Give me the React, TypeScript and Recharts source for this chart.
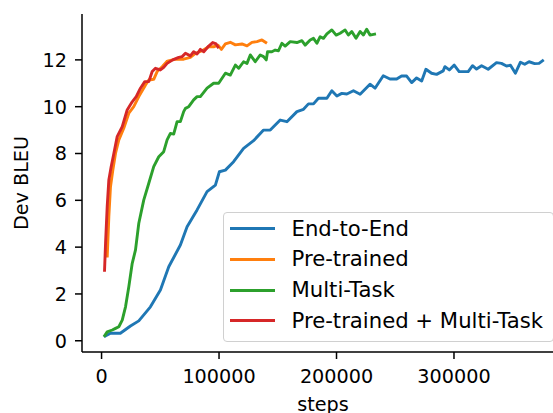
import React from 'react';
import { LineChart, Line, XAxis, YAxis, Legend, Label } from 'recharts';

const seriesNames = ['End-to-End', 'Pre-trained', 'Multi-Task', 'Pre-trained + Multi-Task'];
const seriesColors = ['#1f77b4', '#ff7f0e', '#2ca02c', '#d62728'];
const xTicks = [0, 100000, 200000, 300000];
const yTicks = [0, 2, 4, 6, 8, 10, 12];

const e2eSteps = [2000, 7600, 16000, 24600, 31700, 41600, 50100, 57200, 67100, 72800, 81300, 89800, 96900, 100300, 105400, 112400, 120900, 129400, 137900, 143600, 152100, 157800, 166300, 171900, 176100, 180400, 184600, 191800, 196000, 200300, 204500, 208800, 214400, 220100, 228500, 232800, 239800, 245500, 251200, 255400, 259700, 264000, 268200, 272500, 276100, 280900, 285200, 290800, 292300, 296000, 300200, 304400, 312100, 315800, 319200, 323500, 329100, 336200, 340400, 344700, 348100, 352300, 356600, 360200, 363900, 368700, 372400, 376400];
const e2eBleu = [0.17, 0.32, 0.32, 0.63, 0.85, 1.45, 2.17, 3.16, 4.09, 4.87, 5.59, 6.37, 6.65, 7.22, 7.29, 7.65, 8.22, 8.55, 9.0, 9.0, 9.43, 9.36, 9.79, 9.89, 10.12, 10.12, 10.36, 10.36, 10.68, 10.46, 10.57, 10.54, 10.68, 10.53, 10.96, 10.79, 11.32, 11.18, 11.18, 11.31, 11.31, 11.03, 11.23, 11.1, 11.6, 11.43, 11.38, 11.53, 11.71, 11.57, 11.78, 11.5, 11.5, 11.75, 11.61, 11.75, 11.6, 11.88, 11.85, 11.74, 11.77, 11.43, 11.9, 11.81, 11.92, 11.84, 11.85, 12.0];

const ptSteps = [4800, 6200, 7600, 9600, 11900, 14700, 18900, 23200, 27400, 31700, 37400, 40200, 44400, 47300, 51600, 56000, 62900, 69900, 75600, 79900, 85600, 91200, 95400, 99100, 102000, 105400, 109600, 113900, 119500, 123800, 128000, 132300, 136500, 140800];
const ptBleu = [3.56, 5.3, 6.58, 7.29, 8.01, 8.58, 9.08, 9.72, 10.0, 10.43, 10.93, 11.14, 11.17, 11.5, 11.71, 11.95, 12.03, 12.03, 12.11, 12.28, 12.39, 12.56, 12.56, 12.63, 12.45, 12.68, 12.75, 12.64, 12.68, 12.6, 12.75, 12.78, 12.85, 12.71];

const mtSteps = [2000, 4800, 9100, 11900, 14700, 17600, 20400, 23200, 26100, 28900, 31700, 35900, 40200, 44400, 48700, 52900, 55800, 58600, 61400, 64300, 67100, 69900, 71400, 74200, 78400, 81300, 84100, 89800, 95400, 99700, 105400, 109600, 113900, 116700, 120900, 123800, 126600, 130800, 135100, 137900, 140200, 141300, 145000, 147800, 150600, 153500, 156300, 160600, 166300, 170500, 173300, 177600, 180400, 183300, 186100, 188900, 191800, 196000, 199700, 203100, 207300, 210100, 213000, 216600, 220100, 222900, 225700, 228500, 233600];
const mtBleu = [0.17, 0.38, 0.46, 0.53, 0.6, 0.88, 1.45, 2.31, 3.31, 3.88, 5.02, 6.01, 6.73, 7.44, 7.86, 8.08, 8.58, 8.86, 8.83, 9.36, 9.36, 9.79, 9.93, 10.0, 10.29, 10.43, 10.43, 10.79, 11.0, 11.0, 11.43, 11.35, 11.78, 11.64, 11.92, 11.85, 12.21, 11.92, 12.21, 12.14, 12.0, 12.35, 12.35, 12.42, 12.39, 12.71, 12.59, 12.78, 12.74, 12.82, 12.63, 12.85, 12.92, 12.71, 12.99, 12.92, 13.11, 13.28, 13.06, 13.14, 13.28, 13.06, 13.21, 12.92, 13.21, 13.06, 13.31, 13.06, 13.11];

const ptmtSteps = [2500, 3400, 4800, 6200, 8200, 10500, 13300, 17600, 21800, 26100, 29500, 33100, 36800, 40200, 43100, 45900, 50100, 52900, 55800, 60600, 65700, 68600, 71400, 75600, 78400, 81300, 84100, 87000, 91200, 94600, 97500, 99700];
const ptmtBleu = [2.95, 4.16, 5.73, 6.87, 7.44, 8.01, 8.72, 9.15, 9.86, 10.21, 10.43, 10.79, 11.07, 11.07, 11.5, 11.64, 11.57, 11.68, 11.85, 12.0, 12.11, 12.14, 12.28, 12.17, 12.35, 12.25, 12.45, 12.35, 12.59, 12.74, 12.68, 12.5];

const zip = (s: number[], b: number[]) => s.map((x, i) => ({ step: x, bleu: b[i] }));
const seriesData = [zip(e2eSteps, e2eBleu), zip(ptSteps, ptBleu), zip(mtSteps, mtBleu), zip(ptmtSteps, ptmtBleu)];

const FONT = 'DejaVu Sans';
const FS = 19.2;
const LEGEND_FS = 21.2;
const xDomain = [-16650, 393650];
const yDomain = [-0.48, 13.96];

const YLabel = (props: any) => {
  const vb = props.viewBox || { x: 0, y: 14, width: 82, height: 338 };
  const cx = vb.x + 28;
  const cy = vb.y + vb.height / 2;
  return (
    <text x={cx} y={cy} transform={`rotate(-90, ${cx}, ${cy})`} textAnchor="middle" fontFamily={FONT} fontSize={FS} fill="#000">
      Dev BLEU
    </text>
  );
};

const XLabel = (props: any) => {
  const vb = props.viewBox || { x: 82, y: 352, width: 482, height: 61 };
  return (
    <text x={vb.x + vb.width / 2} y={vb.y + 59} textAnchor="middle" fontFamily={FONT} fontSize={FS} fill="#000">
      steps
    </text>
  );
};

const renderLegend = () => (
  <div
    style={{
      position: 'relative',
      width: 331,
      height: 130,
      boxSizing: 'border-box',
      border: '1.5px solid #d0d0d0',
      borderRadius: 4,
      background: 'rgba(255,255,255,0.8)',
      fontFamily: FONT,
      fontSize: LEGEND_FS,
      color: '#000',
    }}
  >
    {seriesNames.map((n, i) => (
      <div
        key={n}
        style={{
          position: 'absolute',
          left: 5.5,
          top: 0.5 + i * 30.8,
          height: 30,
          display: 'flex',
          alignItems: 'center',
          whiteSpace: 'nowrap',
        }}
      >
        <div style={{ width: 45, height: 3, background: seriesColors[i] }} />
        <span style={{ marginLeft: 17, lineHeight: '30px' }}>{n}</span>
      </div>
    ))}
  </div>
);

export default function App() {
  return (
    <div style={{ position: 'absolute', left: 0, top: 0, width: 553, height: 413, overflow: 'hidden', background: '#fff' }}>
      <LineChart width={600} height={413} margin={{ top: 14, right: 36, bottom: 0, left: 0 }}>
        <XAxis
          dataKey="step"
          type="number"
          domain={xDomain}
          ticks={xTicks}
          interval={0}
          allowDataOverflow
          height={61}
          tickSize={7}
          tickMargin={10}
          axisLine={{ stroke: '#000', strokeWidth: 1.5 }}
          tickLine={{ stroke: '#000', strokeWidth: 1.5 }}
          tick={{ fill: '#000', fontSize: FS, fontFamily: FONT }}
          tickFormatter={(v: number) => String(v)}
        >
          <Label content={XLabel} />
        </XAxis>
        <XAxis
          xAxisId="top"
          orientation="top"
          dataKey="step"
          type="number"
          domain={xDomain}
          allowDataOverflow
          height={0}
          tick={false}
          tickLine={false}
          axisLine={{ stroke: '#000', strokeWidth: 1.5 }}
        />
        <YAxis
          type="number"
          domain={yDomain}
          ticks={yTicks}
          interval={0}
          allowDataOverflow
          width={82}
          tickSize={7}
          tickMargin={8}
          axisLine={{ stroke: '#000', strokeWidth: 1.5 }}
          tickLine={{ stroke: '#000', strokeWidth: 1.5 }}
          tick={{ fill: '#000', fontSize: FS, fontFamily: FONT }}
        >
          <Label content={YLabel} />
        </YAxis>
        {seriesData.map((d, i) => (
          <Line
            key={seriesNames[i]}
            data={d}
            dataKey="bleu"
            name={seriesNames[i]}
            type="linear"
            stroke={seriesColors[i]}
            strokeWidth={2.9}
            strokeLinejoin="round"
            dot={false}
            activeDot={false}
            isAnimationActive={false}
          />
        ))}
        <Legend
          layout="horizontal"
          verticalAlign="middle"
          align="center"
          content={renderLegend}
          wrapperStyle={{ left: 223, top: 212, width: 331, height: 130, right: 'auto', bottom: 'auto' }}
        />
      </LineChart>
    </div>
  );
}
